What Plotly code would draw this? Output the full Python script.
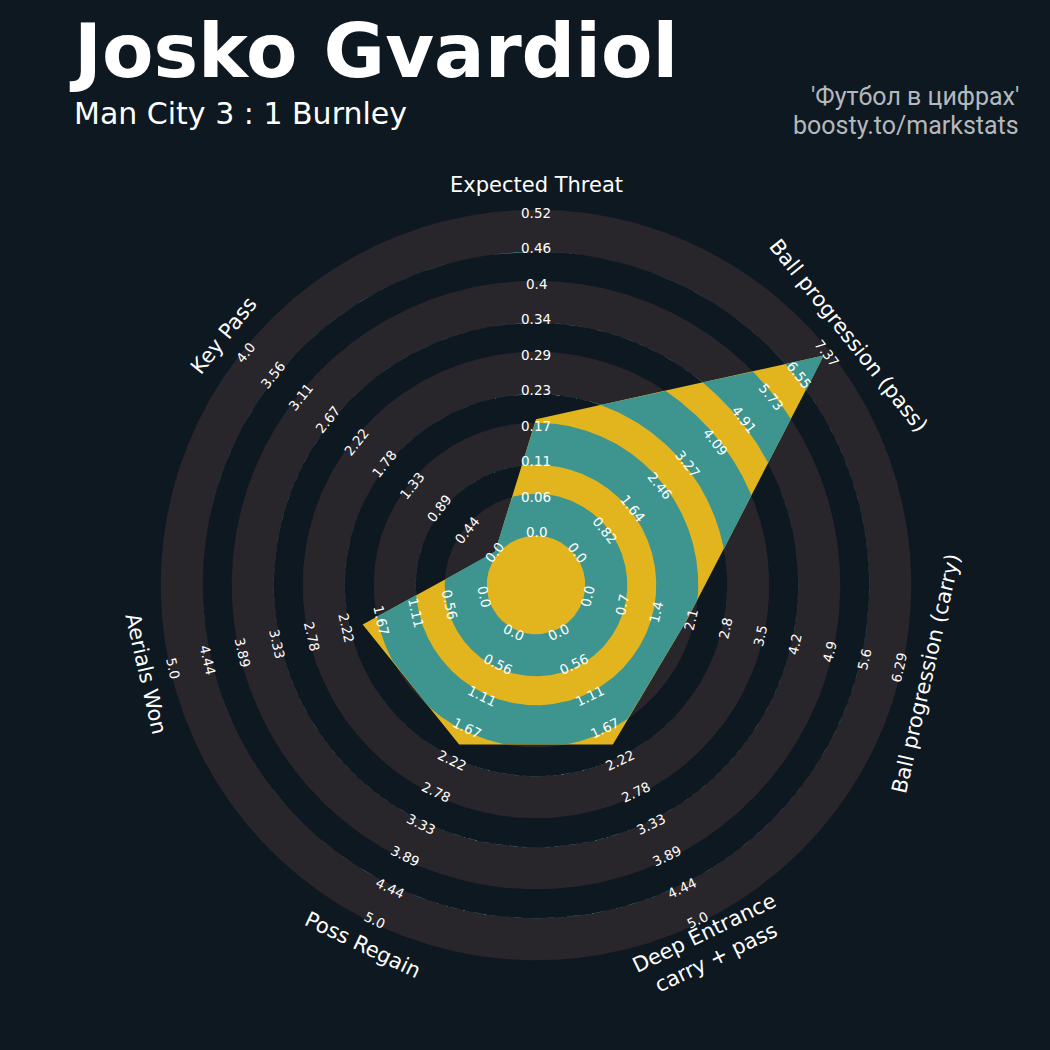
import numpy as np
import plotly.graph_objects as go

# ---------------- data ----------------
params = ["Expected Threat", "Ball progression (pass)", "Ball progression (carry)",
          "Deep Entrance<br>carry + pass", "Poss Regain", "Aerials Won", "Key Pass"]
low = [0, 0, 0, 0, 0, 0, 0]
high = [0.5167, 7.368, 6.295, 5.0, 5.0, 5.0, 4.0]
values = [0.183, 7.275, 2.02, 1.95, 1.95, 1.96, 0.0]

labels_xt = ["0.0", "0.06", "0.11", "0.17", "0.23", "0.29", "0.34", "0.4", "0.46", "0.52"]
labels_pass = ["0.0", "0.82", "1.64", "2.46", "3.27", "4.09", "4.91", "5.73", "6.55", "7.37"]
labels_carry = ["0.0", "0.7", "1.4", "2.1", "2.8", "3.5", "4.2", "4.9", "5.6", "6.29"]
labels_deep = ["0.0", "0.56", "1.11", "1.67", "2.22", "2.78", "3.33", "3.89", "4.44", "5.0"]
labels_regain = ["0.0", "0.56", "1.11", "1.67", "2.22", "2.78", "3.33", "3.89", "4.44", "5.0"]
labels_aerial = ["0.0", "0.56", "1.11", "1.67", "2.22", "2.78", "3.33", "3.89", "4.44", "5.0"]
labels_key = ["0.0", "0.44", "0.89", "1.33", "1.78", "2.22", "2.67", "3.11", "3.56", "4.0"]
range_labels = [labels_xt, labels_pass, labels_carry, labels_deep,
                labels_regain, labels_aerial, labels_key]

title = "Josko Gvardiol"
subtitle = "Man City 3 : 1 Burnley"
credit1 = "'Футбол в цифрах'"
credit2 = "boosty.to/markstats"

# ---------------- style ----------------
BG = "#0E1820"
RING = "#28252B"
TEAL = "#3E958F"
YELLOW = "#E2B51E"
WHITE = "#FFFFFF"
GREY = "#B4B9BE"

CENTER_R = 1.48
RING_W = 1.0
NUM_RINGS = 9
EXPAND = 0.092
LABEL_R = 11.27

n = len(params)
step = 360.0 / n
angles = np.deg2rad(90 - np.arange(n) * step)


def to_radius(v, lo, hi):
    return CENTER_R + (v - lo) / (hi - lo) * NUM_RINGS * RING_W


vr = np.array([to_radius(v, lo, hi) for v, lo, hi in zip(values, low, high)])
vx = vr * np.cos(angles)
vy = vr * np.sin(angles)

# dense angle samples (clockwise position from the top), including vertex angles
u = np.unique(np.concatenate([np.linspace(0, 360, 1441), np.arange(n + 1) * step]))
theta = np.deg2rad(90 - u)


def poly_radius(uu):
    seg = np.minimum((uu // step).astype(int), n - 1)
    th = np.deg2rad(90 - uu)
    dx, dy = np.cos(th), np.sin(th)
    ax_, ay_ = vx[seg], vy[seg]
    bx_, by_ = vx[(seg + 1) % n], vy[(seg + 1) % n]
    ex, ey = bx_ - ax_, by_ - ay_
    den = dx * ey - dy * ex
    t = (ax_ * ey - ay_ * ex) / den
    return t


P = poly_radius(u)


def annulus_path(r_out_arr, r_in):
    xo = r_out_arr * np.cos(theta)
    yo = r_out_arr * np.sin(theta)
    xi = (r_in * np.cos(theta))[::-1]
    yi = (r_in * np.sin(theta))[::-1]
    return np.concatenate([xo, xi]), np.concatenate([yo, yi])


fig = go.Figure()

# background rings (outside the radar)
wide_bands = []
for k in range(0, NUM_RINGS, 2):
    r1 = CENTER_R + k * RING_W - EXPAND
    r2 = CENTER_R + (k + 1) * RING_W + EXPAND
    wide_bands.append((r1, r2))
for r1, r2 in wide_bands:
    x, y = annulus_path(np.full(len(theta), r2), r1)
    fig.add_trace(go.Scatter(x=x, y=y, mode="lines", fill="toself", fillcolor=RING,
                             line=dict(width=0), hoverinfo="skip"))

# radar polygon (yellow base)
fig.add_trace(go.Scatter(x=np.append(vx, vx[0]), y=np.append(vy, vy[0]), mode="lines",
                         fill="toself", fillcolor=YELLOW, line=dict(width=0), hoverinfo="skip"))

# teal bands clipped to the polygon
for r1, r2 in wide_bands:
    rout = np.clip(P, r1, r2)
    x, y = annulus_path(rout, r1)
    fig.add_trace(go.Scatter(x=x, y=y, mode="lines", fill="toself", fillcolor=TEAL,
                             line=dict(width=0), hoverinfo="skip"))


def text_angle(th):
    rot = np.rad2deg(th) - 90
    rot = (rot + 180) % 360 - 180
    if rot < -90 or rot > 90:
        rot = (rot + 360) % 360 - 180
    return -rot


annotations = []
for i in range(n):
    th = angles[i]
    ta = text_angle(th)
    for k, lab in enumerate(range_labels[i]):
        r = CENTER_R + k * RING_W
        annotations.append(dict(x=r * np.cos(th), y=r * np.sin(th), xref="x", yref="y",
                                text=lab, showarrow=False, textangle=ta,
                                xanchor="center", yanchor="middle",
                                font=dict(family="DejaVu Sans", size=13.5, color=WHITE)))
    annotations.append(dict(x=LABEL_R * np.cos(th), y=LABEL_R * np.sin(th), xref="x", yref="y",
                            text=params[i], showarrow=False, textangle=ta,
                            xanchor="center", yanchor="middle", align="center",
                            font=dict(family="DejaVu Sans", size=21, color=WHITE)))

W = H = 1050
annotations += [
    dict(x=67 / W, y=1 - 51 / H, xref="paper", yref="paper", text="<b>" + title + "</b>",
         showarrow=False, xanchor="left", yanchor="middle",
         font=dict(family="DejaVu Sans", size=75, color=WHITE)),
    dict(x=72 / W, y=1 - 114 / H, xref="paper", yref="paper", text=subtitle,
         showarrow=False, xanchor="left", yanchor="middle",
         font=dict(family="DejaVu Sans", size=30, color=WHITE)),
    dict(x=1021 / W, y=1 - 97 / H, xref="paper", yref="paper", text=credit1,
         showarrow=False, xanchor="right", yanchor="middle",
         font=dict(family="Roboto", size=25, color=GREY)),
    dict(x=1021 / W, y=1 - 125 / H, xref="paper", yref="paper", text=credit2,
         showarrow=False, xanchor="right", yanchor="middle",
         font=dict(family="Roboto", size=25, color=GREY)),
]

PX = 35.5
R_AX = 13
half = R_AX * PX
cx, cy = 536, 585
fig.update_layout(
    width=W, height=H, margin=dict(l=0, r=0, t=0, b=0),
    paper_bgcolor=BG, plot_bgcolor=BG, showlegend=False,
    xaxis=dict(range=[-R_AX, R_AX], domain=[(cx - half) / W, (cx + half) / W],
               visible=False, fixedrange=True),
    yaxis=dict(range=[-R_AX, R_AX], domain=[(H - cy - half) / H, (H - cy + half) / H],
               visible=False, fixedrange=True),
    annotations=annotations,
)

fig.write_html("out.html", config={"displayModeBar": False},
               post_script="document.body.style.margin='0';document.body.style.background='%s';" % BG)
